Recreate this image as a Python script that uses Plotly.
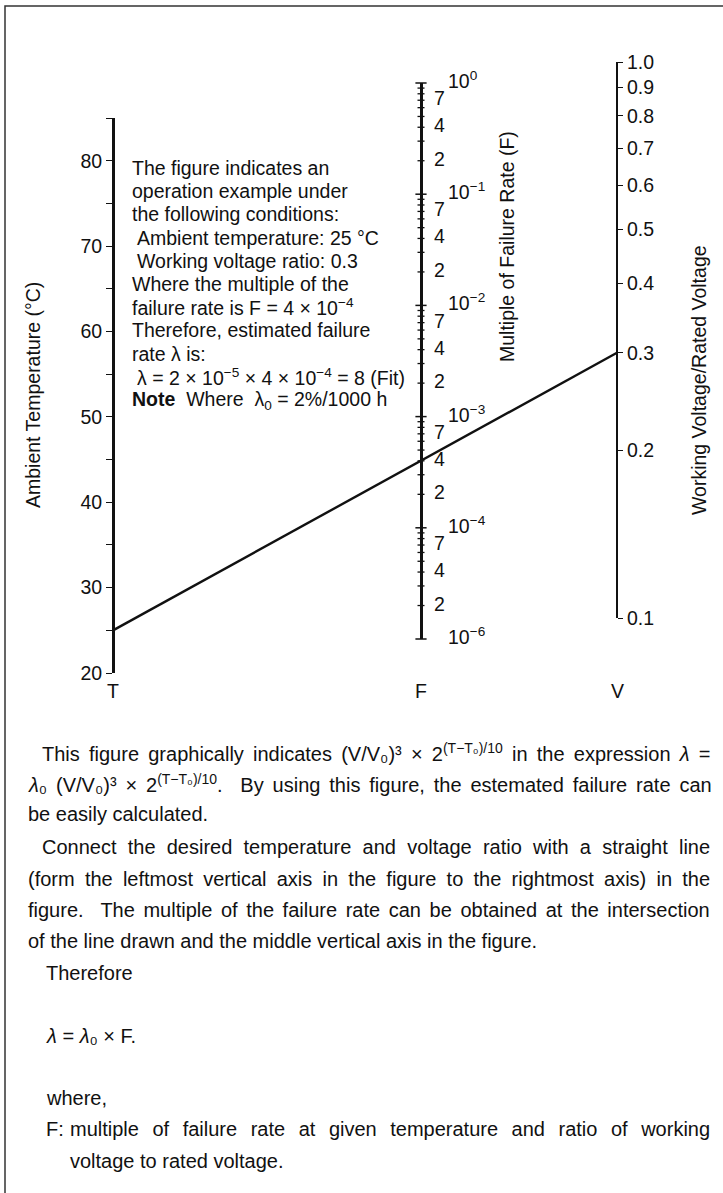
import re
import numpy as np
import plotly.graph_objects as go

W, H = 723, 1193

# ---------------- data ----------------
T_major = [20, 30, 40, 50, 60, 70, 80]
T_minor = [25, 35, 45, 55, 65, 75, 85]
T_range = [20, 85]

F_decades = [1e0, 1e-1, 1e-2, 1e-3, 1e-4, 1e-5]
F_decade_labels = ["10<sup>0</sup>", "10<sup>−1</sup>", "10<sup>−2</sup>",
                   "10<sup>−3</sup>", "10<sup>−4</sup>", "10<sup>−6</sup>"]
F_minor_mantissas = [2, 3, 4, 5, 6, 7, 8, 9]
F_labeled_mantissas = [7, 4, 2]
F_range = [1e-5, 1e0]

V_ticks = [1.0, 0.9, 0.8, 0.7, 0.6, 0.5, 0.4, 0.3, 0.2, 0.1]
V_ticklabels = ["1.0", "0.9", "0.8", "0.7", "0.6", "0.5", "0.4", "0.3", "0.2", "0.1"]
V_range = [0.1, 1.0]

example_T = 25
example_V = 0.3

scale_letters = ["T", "F", "V"]
axis_titles = ["Ambient Temperature (°C)", "Multiple of Failure Rate (F)",
               "Working Voltage/Rated Voltage"]

note_lines = [
    "The figure indicates an",
    "operation example under",
    "the following conditions:",
    "Ambient temperature: 25 °C",
    "Working voltage ratio: 0.3",
    "Where the multiple of the",
    "failure rate is F = 4 × 10<sup>−4</sup>",
    "Therefore, estimated failure",
    "rate λ is:",
    "λ = 2 × 10<sup>−5</sup> × 4 × 10<sup>−4</sup> = 8 (Fit)",
    "<b>Note</b>\u00a0 Where\u00a0 λ<sub>0</sub> = 2%/1000 h",
]

body_lines = [
    "This figure graphically indicates (V/V₀)³ × 2<sup>(T−T₀)/10</sup> in the expression <i>λ</i> =",
    "<i>λ</i>₀ (V/V₀)³ × 2<sup>(T−T₀)/10</sup>.\u00a0 By using this figure, the estemated failure rate can",
    "be easily calculated.",
    "Connect the desired temperature and voltage ratio with a straight line",
    "(form the leftmost vertical axis in the figure to the rightmost axis) in the",
    "figure.\u00a0 The multiple of the failure rate can be obtained at the intersection",
    "of the line drawn and the middle vertical axis in the figure.",
    "Therefore",
    "<i>λ</i> = <i>λ</i>₀ × F.",
    "where,",
    "F:",
    "multiple of failure rate at given temperature and ratio of working",
    "voltage to rated voltage.",
]
body_justified = [True, True, False, True, True, True, False, False, False, False, False,
                  True, False]

# ---------------- layout constants (positions / styles) ----------------
X_AX = {"T": 113, "F": 421, "V": 617}
PX = {"T": (673, 118.3), "F": (639, 83), "V": (618, 62)}   # (bottom px, top px)
note_x = [130, 130, 130, 135, 135, 130, 130, 130, 130, 135, 130]
note_y0, note_dy = 168, 23.2
body_x = [40, 26, 26, 40, 26, 26, 26, 44, 44, 44, 44, 68, 68]
body_y = [752, 783, 814, 847, 879, 910, 941, 973, 1036, 1098, 1129, 1129, 1161]
body_right = 708
title_pos = [(33, 395), (507, 247), (699, 380)]
letter_y = 691
F_digit_x = 432
F_decade_x = 446

FONT = "Liberation Sans, Arial, sans-serif"
FS = 19.5
BODY_FS = 20
INK = "#111111"

# approximate Arial / Liberation Sans advance widths (em/1000) for justification
_W = {" ": 278, "\u00a0": 278, "!": 278, "%": 889, "(": 333, ")": 333, ",": 278, "-": 333,
      ".": 278, "/": 278, ":": 278, "=": 584, "×": 584, "−": 584, "³": 333, "₀": 400,
      "λ": 500, "°": 400}
for c in "0123456789":
    _W[c] = 556
_W.update(dict(zip("ABCDEFGHIJKLMNOPQRSTUVWXYZ",
                   [667, 667, 722, 722, 667, 611, 778, 722, 278, 500, 667, 556, 833, 722,
                    778, 667, 778, 722, 667, 611, 722, 667, 944, 667, 667, 611])))
_W.update(dict(zip("abcdefghijklmnopqrstuvwxyz",
                   [556, 556, 500, 556, 556, 278, 556, 556, 222, 222, 500, 222, 833, 556,
                    556, 556, 556, 333, 500, 278, 556, 500, 722, 500, 500, 500])))


def measure(html, size):
    width, spaces, sup = 0.0, 0, 0
    for tok in re.split(r"(<[^>]+>)", html):
        if tok.startswith("<"):
            if tok in ("<sup>", "<sub>"):
                sup += 1
            elif tok in ("</sup>", "</sub>"):
                sup -= 1
            continue
        f = 0.7 if sup else 1.0
        for ch in tok:
            width += _W.get(ch, 556) / 1000 * size * f
            if ch in (" ", "\u00a0") and not sup:
                spaces += 1
    return width, spaces


def domain(key):
    pb, pt = PX[key]
    return [1 - pb / H, 1 - pt / H]


def px_lin(v, lo, hi, key):
    pb, pt = PX[key]
    return pb + (v - lo) / (hi - lo) * (pt - pb)


def px_log(v, lo, hi, key):
    pb, pt = PX[key]
    return pb + (np.log10(v) - np.log10(lo)) / (np.log10(hi) - np.log10(lo)) * (pt - pb)


fig = go.Figure()

# T axis carrier trace (invisible)
fig.add_trace(go.Scatter(x=[X_AX["T"]] * 2, y=T_range, xaxis="x", yaxis="y2",
                         mode="markers", marker=dict(opacity=0), hoverinfo="skip",
                         showlegend=False))

# F axis crossing ticks
F_minor = [m * 10.0 ** n for n in range(-5, 0) for m in F_minor_mantissas]
fig.add_trace(go.Scatter(x=[X_AX["F"]] * len(F_minor), y=F_minor, xaxis="x", yaxis="y3",
                         mode="markers", cliponaxis=False, hoverinfo="skip", showlegend=False,
                         marker=dict(symbol="line-ew", size=5,
                                     line=dict(color=INK, width=1.3))))
fig.add_trace(go.Scatter(x=[X_AX["F"]] * len(F_decades), y=F_decades, xaxis="x", yaxis="y3",
                         mode="markers", cliponaxis=False, hoverinfo="skip", showlegend=False,
                         marker=dict(symbol="line-ew", size=8,
                                     line=dict(color=INK, width=1.5))))

# V axis carrier trace (invisible)
fig.add_trace(go.Scatter(x=[X_AX["V"]] * 2, y=V_range, xaxis="x", yaxis="y4",
                         mode="markers", marker=dict(opacity=0), hoverinfo="skip",
                         showlegend=False))

# example line from T scale to V scale
fig.add_trace(go.Scatter(
    x=[X_AX["T"], X_AX["V"]],
    y=[px_lin(example_T, T_range[0], T_range[1], "T"),
       px_log(example_V, V_range[0], V_range[1], "V")],
    xaxis="x", yaxis="y", mode="lines", line=dict(color=INK, width=2.4),
    hoverinfo="skip", showlegend=False))

F_lab_vals = [m * 10.0 ** n for n in range(-1, -6, -1) for m in F_labeled_mantissas]
F_lab_text = [str(m) for n in range(-1, -6, -1) for m in F_labeled_mantissas]

common_y = dict(showgrid=False, zeroline=False, fixedrange=True, anchor="free",
                automargin=False, tickangle=0,
                tickfont=dict(family=FONT, size=FS, color=INK),
                linecolor=INK, tickcolor=INK)

fig.update_layout(
    width=W, height=H, margin=dict(l=0, r=0, t=0, b=0, pad=0, autoexpand=False),
    paper_bgcolor="white", plot_bgcolor="rgba(0,0,0,0)",
    showlegend=False, hovermode=False,
    xaxis=dict(range=[0, W], domain=[0, 1], visible=False, fixedrange=True, anchor="y",
               automargin=False),
    yaxis=dict(range=[H, 0], domain=[0, 1], visible=False, fixedrange=True, automargin=False),
    yaxis2=dict(common_y, domain=domain("T"), range=T_range, position=X_AX["T"] / W,
                side="left", showline=True, linewidth=3,
                tickmode="array", tickvals=T_major, ticks="outside", ticklen=6, tickwidth=1.3,
                minor=dict(tickmode="array", tickvals=T_minor, ticks="outside",
                           ticklen=6, tickwidth=1.3, tickcolor=INK)),
    yaxis3=dict(common_y, domain=domain("F"), type="log",
                range=[np.log10(F_range[0]), np.log10(F_range[1])],
                position=X_AX["F"] / W, side="right", showline=True, linewidth=3,
                showticklabels=False, ticks=""),
    yaxis4=dict(common_y, domain=domain("V"), type="log",
                range=[np.log10(V_range[0]), np.log10(V_range[1])],
                position=X_AX["V"] / W, side="right", showline=True, linewidth=2.2,
                tickmode="array", tickvals=V_ticks, ticktext=V_ticklabels,
                ticks="outside", ticklen=5, tickwidth=1.3),
)

ann = []
# mantissa labels (7, 4, 2) on F scale
for v, t in zip(F_lab_vals, F_lab_text):
    ann.append(dict(x=F_digit_x, y=np.log10(v), xref="x", yref="y3", text=t, showarrow=False,
                    xanchor="left", yanchor="middle", yshift=2,
                    font=dict(family=FONT, size=FS, color=INK)))
# decade labels on F scale
for v, t in zip(F_decades, F_decade_labels):
    ann.append(dict(x=F_decade_x, y=np.log10(v), xref="x", yref="y3", text=t, showarrow=False,
                    xanchor="left", yanchor="middle", yshift=3,
                    font=dict(family=FONT, size=FS, color=INK)))
# scale letters
for k, letter in zip(["T", "F", "V"], scale_letters):
    ann.append(dict(x=X_AX[k], y=letter_y, xref="x", yref="y", text=letter, showarrow=False,
                    xanchor="center", yanchor="middle",
                    font=dict(family=FONT, size=FS, color=INK)))
# axis titles
for (tx, ty), t in zip(title_pos, axis_titles):
    ann.append(dict(x=tx, y=ty, xref="x", yref="y", text=t, showarrow=False, textangle=-90,
                    xanchor="center", yanchor="middle",
                    font=dict(family=FONT, size=FS, color=INK)))
# explanatory note inside chart
for i, (t, nx) in enumerate(zip(note_lines, note_x)):
    ann.append(dict(x=nx, y=note_y0 + i * note_dy, xref="x", yref="y", text=t,
                    showarrow=False, xanchor="left", yanchor="middle",
                    font=dict(family=FONT, size=FS, color=INK)))
# body text (justified lines get extra word spacing)
for t, bx, by, just in zip(body_lines, body_x, body_y, body_justified):
    if just:
        w, n = measure(t, BODY_FS)
        ws = max(0.0, (body_right - bx - w) / max(n, 1))
        t = f'<span style="word-spacing:{ws:.2f}px">{t}</span>'
    ann.append(dict(x=bx, y=by, xref="x", yref="y", text=t, showarrow=False,
                    xanchor="left", yanchor="middle",
                    font=dict(family=FONT, size=BODY_FS, color=INK)))
fig.update_layout(annotations=ann)

# page frame
fig.add_shape(type="rect", xref="x", yref="y", x0=5, y0=6, x1=W + 20, y1=H + 20,
              line=dict(color="#333333", width=1.5), layer="below")

fig.write_html("out.html", config={"displayModeBar": False},
               post_script="document.body.style.margin='0';document.body.style.overflow='hidden';")
